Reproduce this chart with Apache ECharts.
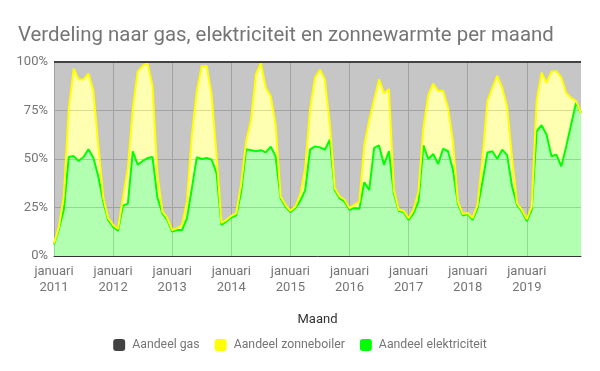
<!DOCTYPE html>
<html>
<head>
<meta charset="utf-8">
<script src="https://cdn.jsdelivr.net/npm/echarts@6/dist/echarts.min.js"></script>
<style>html,body{margin:0;padding:0;background:#fff}#c{width:600px;height:371px}</style>
</head>
<body>
<div id="c"></div>
<script>
var years = ['2011','2012','2013','2014','2015','2016','2017','2018','2019'];
var months = ['januari','februari','maart','april','mei','juni','juli','augustus','september','oktober','november','december'];

// Aandeel elektriciteit (%)
var elektriciteit = [
  6, 14, 24, 51, 51.5, 49, 51, 55, 50.5, 41, 28, 18.6,
  15, 13, 26, 27, 54, 47, 49, 50.5, 51, 30, 22, 18.6,
  12.6, 13.4, 13.4, 19.5, 35, 51, 50, 50.5, 49.7, 42.7, 16, 17.8,
  19.8, 20.9, 33, 55, 54.5, 54, 54.5, 53.4, 56.4, 51.4, 29.8, 25.5,
  22.6, 24.7, 28.4, 34, 55, 56.5, 56, 54.8, 60, 34, 29.8, 28,
  23.8, 24.7, 24.3, 38, 34, 55.7, 57, 47, 54, 32.4, 23.3, 22.6,
  18.6, 22, 28, 57, 50, 52.6, 47.4, 55.3, 54, 44.5, 27, 20.9,
  21.6, 18.6, 24.7, 38.4, 53.4, 54, 50, 54.8, 52, 35.9, 26.4, 23,
  18, 23.8, 64.3, 67.4, 62.6, 51.4, 52.2, 46.2, 56.5, 67.8, 79, 73.8
];
// Aandeel zonneboiler (%)
var zonneboiler = [
  0.5, 1, 7, 25, 45, 42, 40, 39, 34.5, 16, 2, 0.9,
  1, 1, 4, 18, 22, 48, 49, 49, 36.5, 12, 1, 0.9,
  0.8, 0.9, 2.6, 8.5, 27.6, 34, 48, 47.5, 33.3, 9.3, 1, 0.8,
  0.9, 1.1, 4, 4, 15.5, 39.6, 45, 33.3, 26, 16.4, 0.9, 0.9,
  0.7, 0.8, 3.1, 11, 21, 35.5, 40, 36.2, 8, 1, 0.9, 1,
  0.9, 1.7, 3.7, 19, 36, 25, 34, 37, 32, 1.6, 0.5, 0.7,
  0.9, 1.8, 5, 9, 33, 36.2, 37.6, 29.7, 22.4, 14.5, 1, 0.8,
  0.6, 0.9, 1.7, 12.1, 26.4, 32.7, 42.8, 31.9, 25, 14.6, 0.8, 0.8,
  1, 1.7, 15.5, 27.1, 26.7, 43.6, 43.1, 45.8, 27.5, 13.8, 0.8, 0
];
// Aandeel gas (%)
var gas = [
  93.5, 85, 69, 24, 3.5, 9, 9, 6, 15, 43, 70, 80.5,
  84, 86, 70, 55, 24, 5, 2, 0.5, 12.5, 58, 77, 80.5,
  86.6, 85.7, 84, 72, 37.4, 15, 2, 2, 17, 48, 83, 81.4,
  79.3, 78, 63, 41, 30, 6.4, 0.5, 13.3, 17.6, 32.2, 69.3, 73.6,
  76.7, 74.5, 68.5, 55, 24, 8, 4, 9, 32, 65, 69.3, 71,
  75.3, 73.6, 72, 43, 30, 19.3, 9, 16, 14, 66, 76.2, 76.7,
  80.5, 76.2, 67, 34, 17, 11.2, 15, 15, 23.6, 41, 72, 78.3,
  77.8, 80.5, 73.6, 49.5, 20.2, 13.3, 7.2, 13.3, 23, 49.5, 72.8, 76.2,
  81, 74.5, 20.2, 5.5, 10.7, 5, 4.7, 8, 16, 18.4, 20.2, 26.2
];
var yTicks = [0, 25, 50, 75, 100];

var categories = [];
years.forEach(function (y) { months.forEach(function (m) { categories.push(m + '\n' + y); }); });

var chart = echarts.init(document.getElementById('c'), null, {renderer: 'canvas'});
var isJan = function (idx) { return idx % 12 === 0; };
var font = 'Roboto, "Noto Sans", sans-serif';

function areaSeries(name, data, color, lineColor) {
  return {
    name: name, type: 'line', stack: 'total', data: data,
    showSymbol: false, symbol: 'none',
    lineStyle: {color: lineColor, width: 2},
    itemStyle: {color: lineColor},
    areaStyle: {color: color, opacity: 0.3},
    emphasis: {disabled: true},
    silent: true
  };
}

chart.setOption({
  animation: false,
  textStyle: {fontFamily: font},
  title: {
    text: 'Verdeling naar gas, elektriciteit en zonnewarmte per maand',
    left: 18, top: 26, padding: 0,
    textStyle: {fontFamily: font, fontSize: 20.4, fontWeight: 'normal', color: '#757575'}
  },
  legend: {
    data: ['Aandeel gas', 'Aandeel zonneboiler', 'Aandeel elektriciteit'],
    top: 334, left: 'center',
    icon: 'roundRect', itemWidth: 12, itemHeight: 12, itemGap: 15,
    textStyle: {fontFamily: font, fontSize: 12.3, color: '#757575', padding: [0, 0, 0, 2]}
  },
  grid: {left: 54, right: 19, top: 62, bottom: 115, containLabel: false},
  xAxis: {
    type: 'category', data: categories, boundaryGap: false,
    name: 'Maand', nameLocation: 'middle', nameGap: 57,
    nameTextStyle: {fontFamily: font, fontSize: 13, color: '#333333'},
    axisLine: {show: true, lineStyle: {color: '#333333', width: 1}},
    axisTick: {show: false},
    axisLabel: {
      interval: function (idx) { return isJan(idx); },
      formatter: function (v) { var p = v.split('\n'); return (p[0] === 'januari') ? v : ''; },
      color: '#757575', fontSize: 13, fontFamily: font, lineHeight: 16, margin: 8
    },
    splitLine: {show: true, interval: function (idx) { return isJan(idx); }, lineStyle: {color: '#cccccc', width: 1}}
  },
  yAxis: {
    type: 'value', min: yTicks[0], max: yTicks[yTicks.length - 1], interval: 25,
    axisLine: {show: false}, axisTick: {show: false},
    axisLabel: {formatter: '{value}%', color: '#757575', fontSize: 13, fontFamily: font, margin: 6},
    splitLine: {show: true, lineStyle: {color: '#cccccc', width: 1}}
  },
  series: [
    areaSeries('Aandeel elektriciteit', elektriciteit, '#00ff00', '#00ff00'),
    areaSeries('Aandeel zonneboiler', zonneboiler, '#ffff00', '#ffff00'),
    areaSeries('Aandeel gas', gas, '#424242', '#424242')
  ]
});
</script>
</body>
</html>
